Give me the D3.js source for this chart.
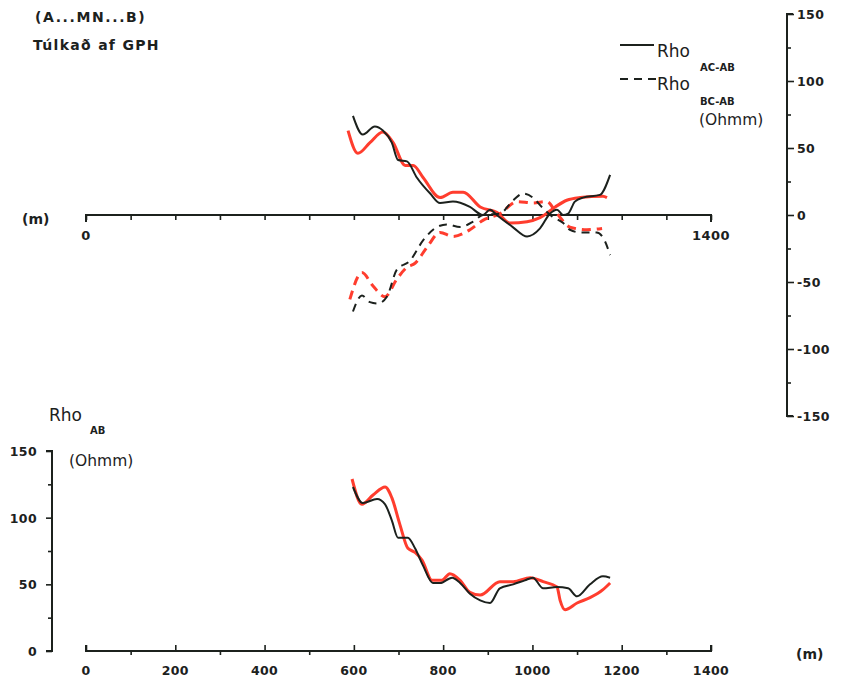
<!DOCTYPE html>
<html>
<head>
<meta charset="utf-8">
<script src="https://cdn.jsdelivr.net/npm/d3@7"></script>
<style>
  html, body { margin: 0; padding: 0; background: #fff; }
  svg { display: block; }
  text { font-family: "DejaVu Sans", sans-serif; fill: #1c211d; }
</style>
</head>
<body>
<div id="chart"></div>
<script>
// ---------- DATA ----------
const xTicks = [0, 200, 400, 600, 800, 1000, 1200, 1400];
const topYTicks = [150, 100, 50, 0, -50, -100, -150];
const bottomYTicks = [0, 50, 100, 150];

// Rho AC-AB (solid) black
const acBlackX = [598, 620, 647, 665, 685, 699, 719, 741, 771, 793, 822, 860, 889, 905, 920, 956, 988, 1017, 1039, 1055, 1069, 1080, 1095, 1113, 1151, 1174];
const acBlackY = [74, 60, 66, 63, 54, 41, 40, 28, 16, 9, 10, 6, 0, 4, 0, -9, -16, -10, 1, 4, 0, 1, 10, 13, 15, 30];
// Rho AC-AB (solid) red
const acRedX = [587, 609, 636, 665, 688, 715, 733, 755, 793, 822, 845, 883, 920, 950, 988, 1017, 1051, 1077, 1107, 1158, 1167];
const acRedY = [63, 46, 54, 62, 54, 37, 37, 28, 13, 17, 17, 6, 2, -6, -5, -2, 6, 11, 13, 14, 13];
// Rho BC-AB (dashed) black
const bcBlackX = [598, 618, 636, 654, 674, 696, 726, 755, 786, 808, 838, 867, 889, 927, 957, 979, 1001, 1021, 1044, 1069, 1084, 1107, 1144, 1163, 1174];
const bcBlackY = [-72, -60, -65, -66, -61, -41, -34, -19, -9, -7, -9, -5, 0, 1, 11, 16, 13, 6, -1, -6, -11, -13, -13, -20, -30];
// Rho BC-AB (dashed) red
const bcRedX = [591, 618, 643, 670, 696, 719, 737, 764, 793, 822, 860, 889, 927, 966, 1001, 1032, 1055, 1084, 1122, 1156];
const bcRedY = [-63, -43, -53, -61, -48, -39, -36, -24, -13, -16, -11, -4, 1, 10, 9, 10, 1, -9, -11, -10];

// Rho AB black
const abBlackX = [598, 620, 652, 670, 685, 699, 721, 737, 755, 777, 793, 820, 838, 860, 883, 905, 927, 957, 983, 1001, 1024, 1055, 1080, 1100, 1129, 1158, 1174];
const abBlackY = [123, 111, 114, 110, 98, 85, 85, 77, 64, 51, 51, 55, 51, 43, 38, 36, 47, 50, 53, 55, 47, 48, 47, 41, 50, 56, 55];
// Rho AB red
const abRedX = [596, 618, 643, 670, 685, 703, 721, 737, 753, 775, 797, 815, 838, 860, 883, 927, 957, 995, 1024, 1055, 1062, 1073, 1100, 1129, 1158, 1174];
const abRedY = [129, 110, 117, 123, 115, 95, 77, 74, 68, 53, 53, 58, 53, 44, 42, 52, 52, 55, 52, 48, 38, 31, 36, 40, 46, 51];

// ---------- DRAW ----------
const W = 841, H = 683;
const ink = "#1c211d", red = "#ff3d2e";
const svg = d3.select("#chart").append("svg").attr("width", W).attr("height", H);

const x = d3.scaleLinear().domain([0, 1400]).range([86, 711]);
const yTop = d3.scaleLinear().domain([-150, 150]).range([416, 14]);
const yBot = d3.scaleLinear().domain([0, 150]).range([651, 451]);

const zip = (xs, ys) => xs.map((v, i) => [v, ys[i]]);

function drawLine(xs, ys, ysc, color, width, dash) {
  const line = d3.line().x(d => x(d[0])).y(d => ysc(d[1])).curve(d3.curveMonotoneX);
  svg.append("path").datum(zip(xs, ys))
    .attr("d", line).attr("fill", "none")
    .attr("stroke", color).attr("stroke-width", width)
    .attr("stroke-linejoin", "round").attr("stroke-linecap", "butt")
    .attr("stroke-dasharray", dash || null);
}

// --- top panel x-axis (at zero) ---
const topAxis = svg.append("g").attr("transform", `translate(0,${yTop(0)})`)
  .call(d3.axisBottom(x).tickValues(d3.range(0, 1401, 100)).tickSize(5).tickFormat(""));
topAxis.select(".domain").attr("stroke", ink).attr("stroke-width", 2).attr("d", `M${x(0)},7V0H${x(1400)}V7`);
topAxis.selectAll(".tick line").attr("stroke", ink).attr("stroke-width", 1.6);
svg.append("text").attr("x", x(0)).attr("y", 240).attr("text-anchor", "middle")
  .attr("font-size", 13).attr("font-weight", "bold").attr("letter-spacing", 0.4).text("0");
svg.append("text").attr("x", x(1400)).attr("y", 240).attr("text-anchor", "middle")
  .attr("font-size", 13).attr("font-weight", "bold").attr("letter-spacing", 0.4).text("1400");
svg.append("text").attr("x", 22).attr("y", 224).attr("font-size", 14).attr("font-weight", "bold").text("(m)");

// --- top panel right y-axis ---
const rAxis = svg.append("g").attr("transform", "translate(787,0)")
  .call(d3.axisRight(yTop).tickValues(d3.range(-150, 151, 25)).tickSize(4).tickFormat(""));
rAxis.select(".domain").attr("stroke", ink).attr("stroke-width", 2).attr("d", `M6,${yTop(150)}H0V${yTop(-150)}H6`);
rAxis.selectAll(".tick line").attr("stroke", ink).attr("stroke-width", 1.6)
  .attr("x2", d => d % 50 === 0 ? 7 : 4);
svg.append("g").selectAll("text").data(topYTicks).join("text")
  .attr("x", 797).attr("y", d => yTop(d) + 5)
  .attr("font-size", 12.5).attr("font-weight", "bold").attr("letter-spacing", 0.4)
  .text(d => d < 0 ? "-" + Math.abs(d) : d);

// --- top panel curves ---
drawLine(bcRedX, bcRedY, yTop, red, 3, "9,6");
drawLine(acRedX, acRedY, yTop, red, 3);
drawLine(bcBlackX, bcBlackY, yTop, ink, 2, "8,6");
drawLine(acBlackX, acBlackY, yTop, ink, 2);

// --- top texts ---
svg.append("text").attr("x", 35).attr("y", 22).attr("font-size", 14).attr("font-weight", "bold")
  .attr("letter-spacing", 1.6).text("(A...MN...B)");
svg.append("text").attr("x", 33).attr("y", 50).attr("font-size", 14).attr("font-weight", "bold")
  .attr("letter-spacing", 1.3).text("Túlkað af GPH");

// legend
svg.append("line").attr("x1", 620).attr("x2", 654).attr("y1", 45).attr("y2", 45)
  .attr("stroke", ink).attr("stroke-width", 2);
svg.append("line").attr("x1", 620).attr("x2", 656).attr("y1", 79).attr("y2", 79)
  .attr("stroke", ink).attr("stroke-width", 2).attr("stroke-dasharray", "8,6");
svg.append("text").attr("x", 657).attr("y", 57).attr("font-size", 17).text("Rho");
svg.append("text").attr("x", 700).attr("y", 71).attr("font-size", 10).attr("font-weight", "bold").text("AC-AB");
svg.append("text").attr("x", 657).attr("y", 90).attr("font-size", 17).text("Rho");
svg.append("text").attr("x", 700).attr("y", 105).attr("font-size", 10).attr("font-weight", "bold").text("BC-AB");
svg.append("text").attr("x", 699).attr("y", 125).attr("font-size", 15.5).text("(Ohmm)");

// --- bottom panel ---
const bx = svg.append("g").attr("transform", `translate(0,${yBot(0)})`)
  .call(d3.axisBottom(x).tickValues(d3.range(0, 1401, 100)).tickSize(4).tickFormat(""));
bx.select(".domain").attr("stroke", ink).attr("stroke-width", 2).attr("d", `M${x(0)},-6V0H${x(1400)}V-6`);
bx.selectAll(".tick line").attr("stroke", ink).attr("stroke-width", 1.6)
  .attr("y2", d => d % 200 === 0 ? -6 : 4);
svg.append("g").selectAll("text").data(xTicks).join("text")
  .attr("x", d => x(d)).attr("y", 675).attr("text-anchor", "middle")
  .attr("font-size", 12.5).attr("font-weight", "bold").attr("letter-spacing", 0.4).text(d => d);
svg.append("text").attr("x", 796).attr("y", 659).attr("font-size", 14).attr("font-weight", "bold").text("(m)");

const by = svg.append("g").attr("transform", "translate(52,0)")
  .call(d3.axisLeft(yBot).tickValues(d3.range(0, 151, 25)).tickSize(4).tickFormat(""));
by.select(".domain").attr("stroke", ink).attr("stroke-width", 2).attr("d", `M-6,${yBot(150)}H0V${yBot(0)}H-6`);
by.selectAll(".tick line").attr("stroke", ink).attr("stroke-width", 1.6)
  .attr("x2", d => d % 50 === 0 ? -6 : -4);
svg.append("g").selectAll("text").data(bottomYTicks).join("text")
  .attr("x", 37).attr("y", d => yBot(d) + 5).attr("text-anchor", "end")
  .attr("font-size", 12.5).attr("font-weight", "bold").attr("letter-spacing", 0.4).text(d => d);

svg.append("text").attr("x", 49).attr("y", 421).attr("font-size", 17).text("Rho");
svg.append("text").attr("x", 90).attr("y", 434).attr("font-size", 10).attr("font-weight", "bold").text("AB");
svg.append("text").attr("x", 69).attr("y", 466).attr("font-size", 15.5).text("(Ohmm)");

drawLine(abRedX, abRedY, yBot, red, 3);
drawLine(abBlackX, abBlackY, yBot, ink, 2);
</script>
</body>
</html>
